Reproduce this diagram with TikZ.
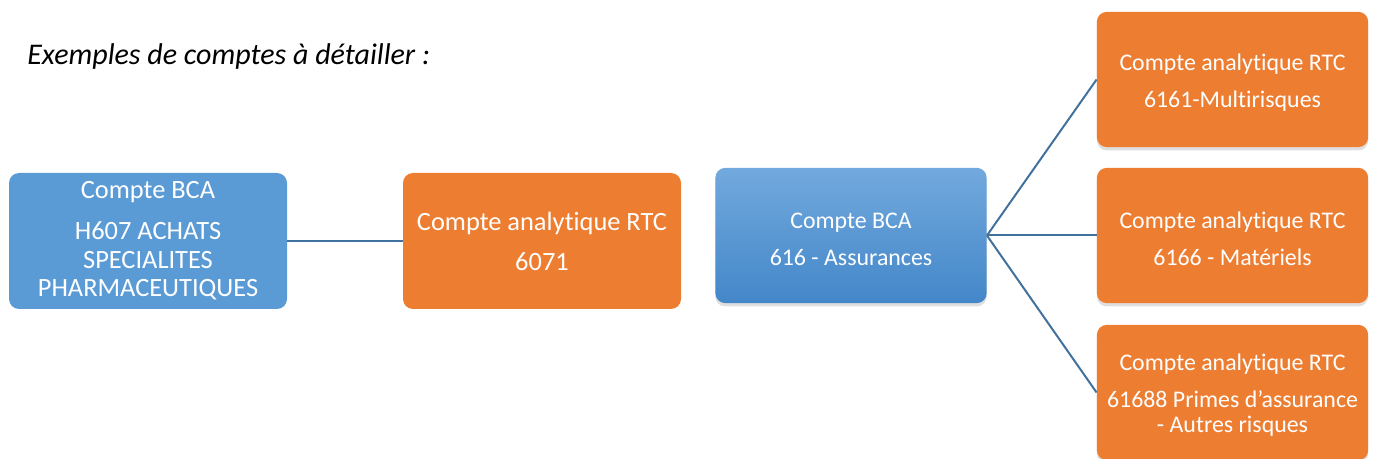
\documentclass[tikz,border=0pt]{standalone}
\usepackage{fontspec}
\setmainfont{Carlito}[Ligatures=NoCommon]
\usetikzlibrary{shadows}
\definecolor{bleu}{HTML}{5B9BD5}
\definecolor{orangeb}{HTML}{ED7D31}
\definecolor{trait}{HTML}{41719C}
\definecolor{gradtop}{HTML}{72A9DD}
\definecolor{gradbot}{HTML}{4387C9}
\newcommand{\topstrut}{\rule{0pt}{17pt}}
\begin{document}
\begin{tikzpicture}[x=0.75pt,y=-0.75pt,
  boxbase/.style={rectangle,rounded corners=7.5pt,text=white,align=center,inner sep=0pt},
  bigbox/.style={boxbase,minimum width=208.5pt,minimum height=102pt,font=\fontsize{19.8}{21.5}\selectfont},
  smallbox/.style={boxbase,minimum width=203.5pt,minimum height=101.5pt,font=\fontsize{17.9}{18.8}\selectfont},
  bluebox/.style={bigbox,fill=bleu},
  orbig/.style={bigbox,fill=orangeb},
  orsmall/.style={smallbox,fill=orangeb,drop shadow={shadow xshift=0pt,shadow yshift=-2.5pt,opacity=0.25}},
  gradbox/.style={smallbox,top color=gradtop,bottom color=gradbot,drop shadow={shadow xshift=0pt,shadow yshift=-2.5pt,opacity=0.25}},
  link/.style={draw=trait,line width=1.5pt}]
\useasboundingbox (0,0) rectangle (1376,459);
\node[anchor=base west,inner sep=0pt,font=\fontsize{22.5}{25}\selectfont\itshape] (titre) at (27,65) {Exemples de comptes à détailler :};
\node[bluebox] (bca1) at (148,241) {Compte BCA\\[9pt]H607 ACHATS\\SPECIALITES\\PHARMACEUTIQUES};
\node[orbig] (rtc1) at (542,241) {Compte analytique RTC\\[8.5pt]6071};
\node[gradbox] (bca2) at (851,235.5) {\topstrut Compte BCA\\[9pt]616 - Assurances};
\node[orsmall] (rtcA) at (1232.5,79.5) {\topstrut Compte analytique RTC\\[9pt]6161-Multirisques};
\node[orsmall] (rtcB) at (1232.5,235.5) {\topstrut Compte analytique RTC\\[9pt]6166 - Matériels};
\node[orsmall] (rtcC) at (1232.5,392.5) {\topstrut Compte analytique RTC\\[9pt]61688 Primes d’assurance\\- Autres risques};
\draw[link] (bca1.east) -- (rtc1.west);
\draw[link] (bca2.east) -- (rtcA.west);
\draw[link] (bca2.east) -- (rtcB.west);
\draw[link] (bca2.east) -- (rtcC.west);
\end{tikzpicture}
\end{document}
